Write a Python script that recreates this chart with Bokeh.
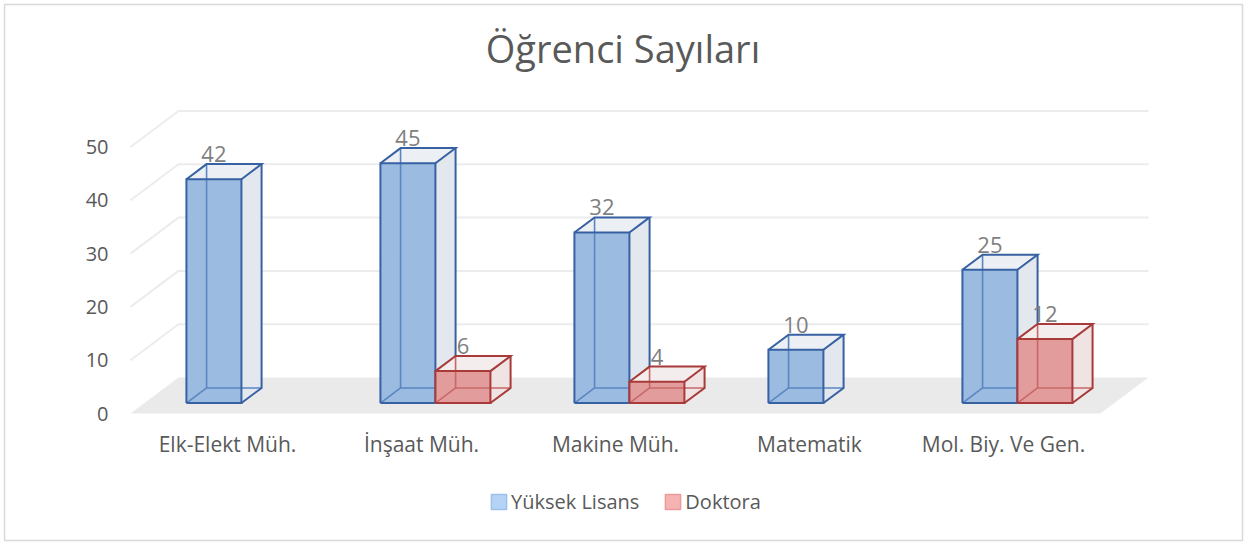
from bokeh.plotting import figure
from bokeh.models import Range1d, ColumnDataSource, Legend, LegendItem, Label
from bokeh.embed import file_html
from bokeh.resources import INLINE
from bokeh.core.properties import value

# ---------------- data ----------------
title_text = "Öğrenci Sayıları"
categories = ["Elk-Elekt Müh.", "İnşaat Müh.", "Makine Müh.", "Matematik", "Mol. Biy. Ve Gen."]
series_names = ["Yüksek Lisans", "Doktora"]
yuksek_lisans = [42, 45, 32, 10, 25]
doktora = [None, 6, 4, None, 12]
y_ticks = [0, 10, 20, 30, 40, 50]

# ---------------- geometry / style ----------------
W, H = 1245, 543
FL, FR, FT, FB = 4, 3, 4, 3          # frame borders (px)
PX_CAT = 194.0                       # px per category
PX_VAL = 5.33                        # px per value unit
ORIGIN = (130.0, 413.0)              # screen px of floor front-left
DX = 48.0 / PX_CAT                   # depth offset in data units (x)
DY = 36.0 / PX_VAL                   # depth offset in data units (y)
ZF, ZB = 0.29, 0.71                  # bar depth range (fraction of floor depth)
BW = 55.0 / PX_CAT                   # bar width in category units

FONT = "Open Sans"
styles = [
    dict(edge="#3761A3", inner="#5A86C2", front="#9BBBE1", side="#E3E7EE", top="#ECEFF4",
         legend_fill="#B4D3F7", legend_line="#9DC0EB"),
    dict(edge="#A83A3A", inner="#C76868", front="#E39C9C", side="#EFE3E3", top="#F4EDED",
         legend_fill="#F7B2B2", legend_line="#E89C9C"),
]

fw = W - FL - FR
fh = H - FT - FB
xs0 = -(ORIGIN[0] - FL) / PX_CAT
ys0 = -((H - FB) - ORIGIN[1]) / PX_VAL

p = figure(width=W, height=H, output_backend="svg", toolbar_location=None,
           x_range=Range1d(xs0, xs0 + fw / PX_CAT), y_range=Range1d(ys0, ys0 + fh / PX_VAL),
           min_border_left=FL, min_border_right=FR, min_border_top=FT, min_border_bottom=FB,
           x_axis_location=None, y_axis_location=None)
p.xgrid.visible = False
p.ygrid.visible = False
p.outline_line_color = "#D9D9D9"
p.outline_line_width = 1.5
p.background_fill_color = "white"
p.border_fill_color = "white"


def P(c, v, z):
    return (c + z * DX, v + z * DY)


n = len(categories)

# floor
floor = [P(0, 0, 0), P(n, 0, 0), P(n, 0, 1), P(0, 0, 1)]
p.patch([q[0] for q in floor], [q[1] for q in floor], fill_color="#EAEAEA", line_color=None)

# gridlines (left wall diagonal + back wall)
gx, gy = [], []
for t in y_ticks:
    if t == 0:
        continue
    pts = [P(0, t, 0), P(0, t, 1), P(n, t, 1)]
    gx.append([q[0] for q in pts])
    gy.append([q[1] for q in pts])
p.multi_line(gx, gy, line_color="#ECECEC", line_width=2)

# tick labels
tick_src = ColumnDataSource(dict(x=[P(0, t, 0)[0] for t in y_ticks],
                                 y=[P(0, t, 0)[1] for t in y_ticks],
                                 t=[str(t) for t in y_ticks]))
p.text("x", "y", text="t", source=tick_src, text_align="right", text_baseline="middle",
       x_offset=-22, text_font=value(FONT), text_font_size="20px", text_color="#595959")

# category labels
cat_src = ColumnDataSource(dict(x=[P(i + 0.5, 0, 0)[0] for i in range(n)],
                                y=[P(i + 0.5, 0, 0)[1] for i in range(n)],
                                t=categories))
p.text("x", "y", text="t", source=cat_src, text_align="center", text_baseline="middle",
       y_offset=30, text_font=value(FONT), text_font_size="21px", text_color="#595959")


def poly(pts):
    return [q[0] for q in pts], [q[1] for q in pts]


legend_items = []
for s, vals in enumerate([yuksek_lisans, doktora]):
    st = styles[s]
    side_x, side_y, top_x, top_y, fr_x, fr_y = [], [], [], [], [], []
    in_x, in_y, out_x, out_y = [], [], [], []
    lab_x, lab_y, lab_t = [], [], []
    for i, v in enumerate(vals):
        if v is None:
            continue
        x0 = i + 0.5 + (s - 1) * BW
        x1 = x0 + BW
        a, b = poly([P(x1, 0, ZF), P(x1, 0, ZB), P(x1, v, ZB), P(x1, v, ZF)])
        side_x.append(a); side_y.append(b)
        a, b = poly([P(x0, v, ZF), P(x1, v, ZF), P(x1, v, ZB), P(x0, v, ZB)])
        top_x.append(a); top_y.append(b)
        a, b = poly([P(x0, 0, ZF), P(x1, 0, ZF), P(x1, v, ZF), P(x0, v, ZF)])
        fr_x.append(a); fr_y.append(b)
        for path in ([P(x0, 0, ZF), P(x0, 0, ZB), P(x0, v, ZB)],
                     [P(x0, 0, ZB), P(x1, 0, ZB)]):
            a, b = poly(path)
            in_x.append(a); in_y.append(b)
        for path in ([P(x0, 0, ZF), P(x1, 0, ZF), P(x1, v, ZF), P(x0, v, ZF), P(x0, 0, ZF)],
                     [P(x0, v, ZF), P(x0, v, ZB), P(x1, v, ZB), P(x1, v, ZF)],
                     [P(x1, v, ZB), P(x1, 0, ZB), P(x1, 0, ZF)]):
            a, b = poly(path)
            out_x.append(a); out_y.append(b)
        lab_x.append(x0 + BW / 2 + ZF * DX)
        lab_y.append(v + ZB * DY)
        lab_t.append(str(v))
    p.patches(side_x, side_y, fill_color=st["side"], line_color=None)
    p.patches(top_x, top_y, fill_color=st["top"], line_color=None)
    p.patches(fr_x, fr_y, fill_color=st["front"], line_color=None)
    p.multi_line(in_x, in_y, line_color=st["inner"], line_width=1.6)
    p.multi_line(out_x, out_y, line_color=st["edge"], line_width=2, line_join="miter")
    p.text(x=lab_x, y=lab_y, text=lab_t, text_align="center", text_baseline="bottom",
           y_offset=-2, text_font=value(FONT), text_font_size="22px", text_color="#7F7F7F")
    # legend proxy glyph, placed outside the visible ranges
    dummy = p.rect(x=[xs0 - 100], y=[ys0 - 100], width=1, height=1, fill_color=st["legend_fill"],
                   line_color=st["legend_line"], line_width=1.5)
    legend_items.append(LegendItem(label=series_names[s], renderers=[dummy]))

legend = Legend(items=legend_items, orientation="horizontal", location=(485, 25),
                padding=0, margin=0, spacing=24, label_standoff=3,
                glyph_width=19, glyph_height=19, border_line_alpha=0,
                background_fill_alpha=0, label_text_font=FONT,
                label_text_font_size="20px", label_text_color="#595959")
p.add_layout(legend, "center")

title = Label(x=(W / 2 - FL), y=(H - FB) - 47, x_units="screen", y_units="screen",
              text=title_text, text_align="center", text_baseline="middle",
              text_font=FONT, text_font_size="38px", text_color="#595959")
p.add_layout(title)

open("out.html", "w").write(file_html(p, INLINE))
